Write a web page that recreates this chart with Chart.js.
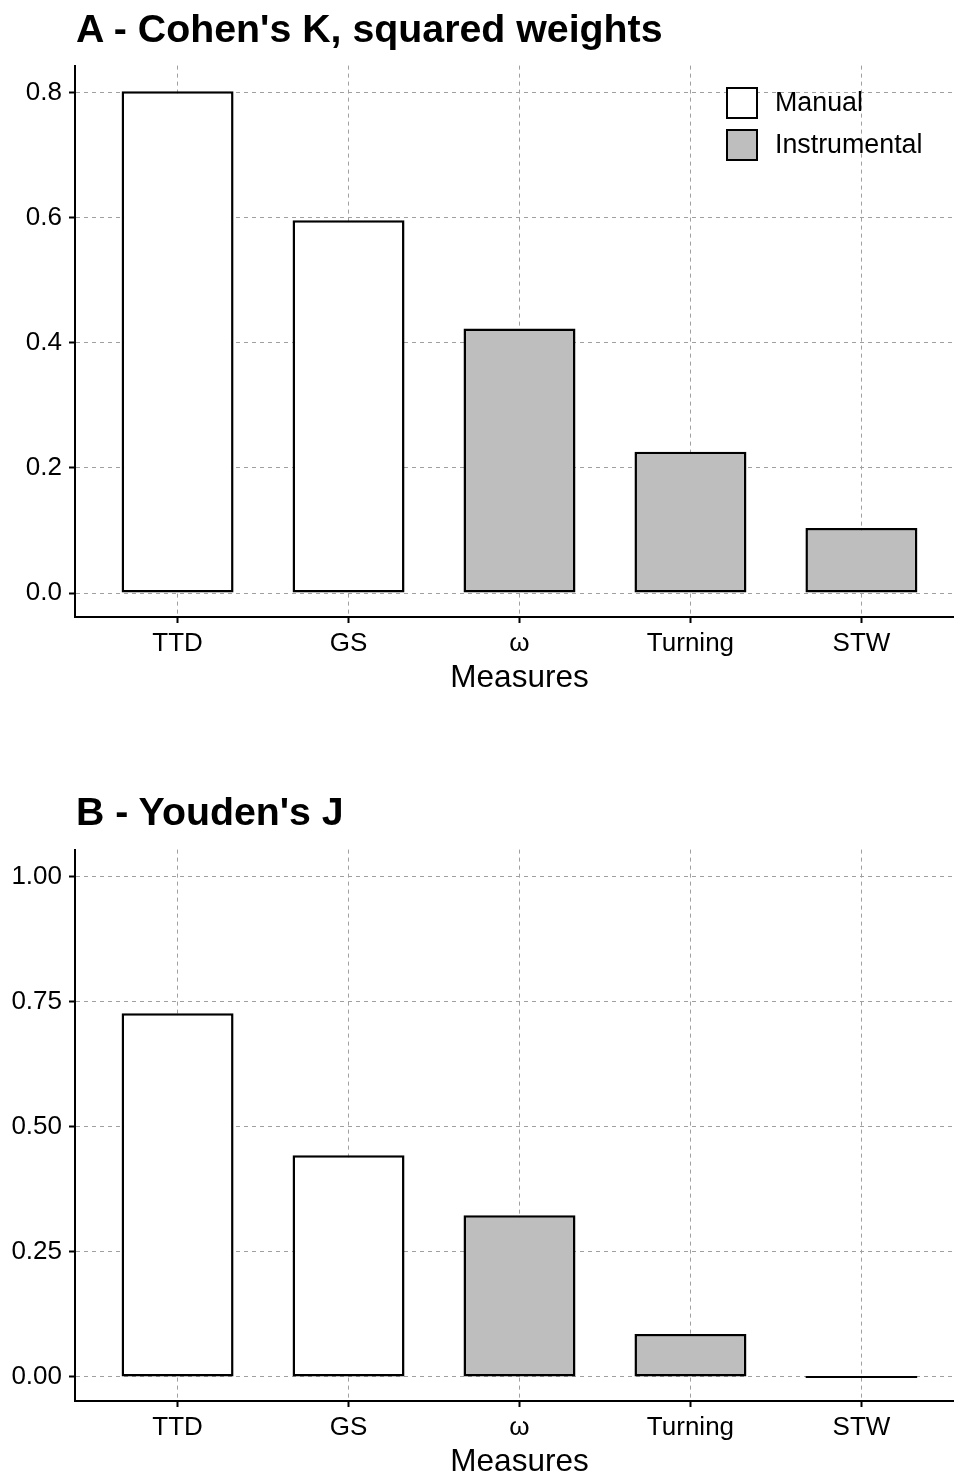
<!DOCTYPE html>
<html>
<head>
<meta charset="utf-8">
<script src="https://cdn.jsdelivr.net/npm/chart.js@4/dist/chart.umd.min.js"></script>
<style>
    body { margin: 0; background: #fff; overflow: hidden; width: 954px; height: 1476px; position: relative; }
    .title { position: absolute; left: 76px; margin: 0; font: bold 39.3px "Liberation Sans", Arial, sans-serif; line-height: 1; color: #000; white-space: nowrap; z-index: 2; }
    canvas { position: absolute; left: 0; z-index: 1; }
</style>
</head>
<body>
<h1 class="title" id="titleA" style="top: 9px;">A - Cohen's K, squared weights</h1>
<canvas id="chartA" width="964" height="654" style="top: 43px;"></canvas>
<h1 class="title" id="titleB" style="top: 792px;">B - Youden's J</h1>
<canvas id="chartB" width="964" height="654" style="top: 827px;"></canvas>
<script>
// Categories and groups
const measures = ['TTD', 'GS', 'ω', 'Turning', 'STW'];
const groups = ['Manual', 'Manual', 'Instrumental', 'Instrumental', 'Instrumental'];
const groupNames = ['Manual', 'Instrumental'];
const groupColors = ['#ffffff', '#bebebe'];

// Values
const kappaValues = [0.802, 0.596, 0.423, 0.226, 0.104];
const youdenValues = [0.727, 0.443, 0.323, 0.086, 0.0];

// Tick labels
const kappaTicks = [0, 0.2, 0.4, 0.6, 0.8];
const kappaTickLabels = ['0.0', '0.2', '0.4', '0.6', '0.8'];
const youdenTicks = [0, 0.25, 0.5, 0.75, 1.0];
const youdenTickLabels = ['0.00', '0.25', '0.50', '0.75', '1.00'];

const fontFamily = '"Liberation Sans", Arial, sans-serif';

// Small legend drawn inside the plot, boxes stacked vertically
const boxLegend = {
    id: 'boxLegend',
    afterDraw(chart, args, opts) {
        if (!opts.show) return;
        const ctx = chart.ctx;
        ctx.save();
        chart.data.datasets.forEach((ds, i) => {
            const y = opts.y + i * (opts.box + opts.gap);
            ctx.fillStyle = ds.backgroundColor;
            ctx.fillRect(opts.x, y, opts.box, opts.box);
            ctx.lineWidth = 2;
            ctx.strokeStyle = '#000';
            ctx.strokeRect(opts.x + 1, y + 1, opts.box - 2, opts.box - 2);
            ctx.fillStyle = '#000';
            ctx.font = `26.8px ${fontFamily}`;
            ctx.textBaseline = 'middle';
            ctx.textAlign = 'left';
            ctx.fillText(ds.label, opts.x + opts.box + 17, y + opts.box / 2 + 1);
        });
        ctx.restore();
    }
};

// Build one dataset per group, bars at category index on a linear x axis
function buildDatasets(values) {
    return groupNames.map((g, gi) => ({
        label: g,
        data: measures
            .map((m, i) => ({ x: i, y: values[i], g: groups[i] }))
            .filter(p => p.g === g),
        backgroundColor: groupColors[gi],
        borderColor: '#000',
        borderWidth: 2.5,
        borderSkipped: false,
        grouped: false,
        barPercentage: 0.655,
        categoryPercentage: 1,
        minBarLength: 2
    }));
}

function makeChart(canvasId, values, ticks, tickLabels, yMin, yMax, showLegend) {
    const gridStyle = {
        color: '#a0a0a0',
        lineWidth: 1,
        offset: false,
        borderDash: [4, 4],
        tickColor: '#000',
        tickWidth: 2,
        tickLength: 6,
        tickBorderDash: []
    };
    const borderStyle = { color: '#000', width: 2, dash: [4, 4] };

    return new Chart(document.getElementById(canvasId).getContext('2d'), {
        type: 'bar',
        data: { datasets: buildDatasets(values) },
        options: {
            responsive: false,
            animation: false,
            devicePixelRatio: 1,
            layout: { padding: { top: 10, left: 0, right: 0, bottom: 0 } },
            scales: {
                x: {
                    type: 'linear',
                    offset: false,
                    min: -0.6,
                    max: 4.6,
                    afterBuildTicks: scale => {
                        scale.ticks = measures.map((m, i) => ({ value: i }));
                    },
                    afterFit: scale => { scale.height = 80; },
                    ticks: {
                        color: '#000',
                        font: { family: fontFamily, size: 26 },
                        padding: 5,
                        maxRotation: 0,
                        autoSkip: false,
                        callback: value => measures[value]
                    },
                    grid: gridStyle,
                    border: borderStyle,
                    title: {
                        display: true,
                        text: 'Measures',
                        color: '#000',
                        font: { family: fontFamily, size: 31.5 },
                        padding: { top: 0, bottom: 0 }
                    }
                },
                y: {
                    min: yMin,
                    max: yMax,
                    afterBuildTicks: scale => {
                        scale.ticks = ticks.map(v => ({ value: v }));
                    },
                    afterFit: scale => { scale.width = 75; },
                    ticks: {
                        color: '#000',
                        font: { family: fontFamily, size: 26 },
                        padding: 7,
                        callback: (value, index) => tickLabels[index]
                    },
                    grid: gridStyle,
                    border: borderStyle
                }
            },
            plugins: {
                legend: { display: false },
                tooltip: { enabled: false },
                boxLegend: { show: showLegend, x: 726, y: 44, box: 32, gap: 10 }
            }
        },
        plugins: [boxLegend]
    });
}

makeChart('chartA', kappaValues, kappaTicks, kappaTickLabels, -0.0383, 0.843, true);
makeChart('chartB', youdenValues, youdenTicks, youdenTickLabels, -0.048, 1.054, false);
</script>
</body>
</html>
